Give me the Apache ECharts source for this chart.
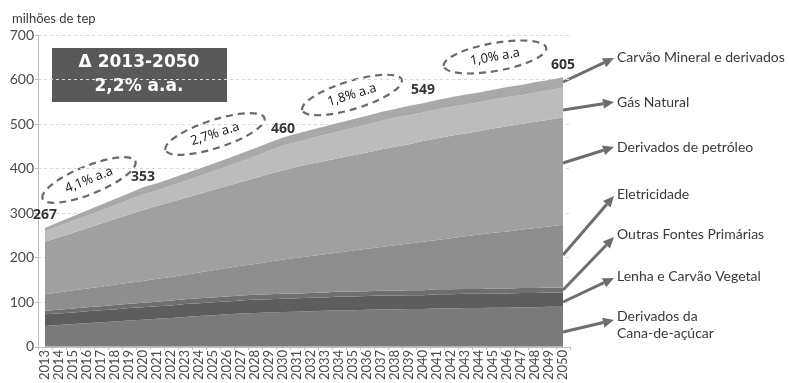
<!DOCTYPE html>
<html><head><meta charset="utf-8">
<script src="https://cdn.jsdelivr.net/npm/echarts@6/dist/echarts.min.js"></script>
<style>html,body{margin:0;padding:0;background:#fff}#c{width:789px;height:383px}</style>
</head><body><div id="c"></div>
<script>
const years = ['2013','2014','2015','2016','2017','2018','2019','2020','2021','2022','2023','2024','2025','2026','2027','2028','2029','2030','2031','2032','2033','2034','2035','2036','2037','2038','2039','2040','2041','2042','2043','2044','2045','2046','2047','2048','2049','2050'];
const cana =    [47,49,51,53,55,57,59,61,63,65,67,69,71,73,75,76,77,78,79,80,81,82,82,83,84,84,85,85,86,86,87,87,88,88,89,89,90,90];
const lenha =   [26,26,26,27,27,27,28,28,28,28,29,29,29,29,29,30,30,30,30,30,30,31,31,31,31,31,31,31,32,32,32,32,32,32,32,32,32,32];
const outras =  [8,8,9,9,9,10,10,10,10,11,11,11,11,11,11,11,11,11,11,11,11,11,11,11,11,11,11,11,11,11,11,11,11,11,11,11,11,11];
const eletricidade = [37,39,41,42,44,46,47,49,52,53,55,58,61,64,67,69,73,77,80,83,86,88,92,95,98,102,105,109,111,115,118,122,125,128,131,135,137,141];
const petroleo = [118,124,129,135,142,147,153,159,163,168,172,176,180,184,188,193,197,200,204,207,209,212,214,216,219,221,223,226,228,230,231,232,234,236,237,238,240,241];
const gas =     [23,25,27,28,29,31,33,35,35,37,38,40,42,44,46,49,52,56,56,57,59,60,61,63,64,65,65,64,65,65,65,65,65,66,65,66,66,67];
const carvao =  [8,9,10,12,13,14,15,16,16,16,17,17,17,17,18,18,18,18,19,19,19,19,20,20,20,20,21,21,21,21,22,22,22,22,23,23,23,23];
const totalYears = ['2013','2020','2030','2040','2050'];
const totalValues = [267,353,460,549,605];
const rateLabels = ['4,1% a.a','2,7% a.a','1,8% a.a','1,0% a.a'];
const seriesNames = ['Derivados da\nCana-de-açúcar','Lenha e Carvão Vegetal','Outras Fontes Primárias','Eletricidade','Derivados de petróleo','Gás Natural','Carvão Mineral e derivados'];

const colors = ['#7b7b7b','#5d5d5d','#6f6f6f','#8e8e8e','#a0a0a0','#bcbcbc','#a9a9a9'];
const dataSets = [cana,lenha,outras,eletricidade,petroleo,gas,carvao];

const chart = echarts.init(document.getElementById('c'));

function arrow(x1,y1,x2,y2){
  const ang = Math.atan2(y2-y1,x2-x1), L=11, W=5;
  const bx = x2 - L*Math.cos(ang), by = y2 - L*Math.sin(ang);
  const px = -Math.sin(ang)*W, py = Math.cos(ang)*W;
  return [
    {type:'line',shape:{x1:x1,y1:y1,x2:bx,y2:by},style:{stroke:'#6e6e6e',lineWidth:3},silent:true},
    {type:'polygon',shape:{points:[[x2,y2],[bx+px,by+py],[bx-px,by-py]]},style:{fill:'#6e6e6e'},silent:true}
  ];
}
const rightLabels = [
  {t:seriesNames[6], y:58, a:[563,82,614,58]},
  {t:seriesNames[5], y:103, a:[563,110,614,102]},
  {t:seriesNames[4], y:148, a:[563,163,614,147]},
  {t:seriesNames[3], y:195, a:[563,255,614,196]},
  {t:seriesNames[2], y:235, a:[563,290,614,237]},
  {t:seriesNames[1], y:277, a:[563,302,614,278]},
  {t:seriesNames[0], y:325, a:[563,332,614,320]}
];
const graphics = [];
rightLabels.forEach(r=>{
  graphics.push(...arrow(r.a[0],r.a[1],r.a[2],r.a[3]));
  graphics.push({type:'text',left:617,top:r.y-(r.t.indexOf('\n')>=0?17:9),style:{text:r.t,font:'14px Lato',fill:'#3a3a3a',lineHeight:17},silent:true});
});
const ell = [
  {cx:89,cy:180,rot:22,rx:50,ry:14},
  {cx:215,cy:134,rot:18,rx:52,ry:14},
  {cx:352,cy:95,rot:17,rx:52,ry:14},
  {cx:495,cy:57,rot:10,rx:52,ry:14}
];
ell.forEach((e,i)=>{
  graphics.push({type:'group',x:e.cx,y:e.cy,rotation:e.rot*Math.PI/180,silent:true,children:[
    {type:'ellipse',shape:{cx:0,cy:0,rx:e.rx,ry:e.ry},style:{fill:'none',stroke:'#6a6a6a',lineWidth:2.2,lineDash:[7,5]}},
    {type:'text',x:0,y:0,style:{text:rateLabels[i],font:'13px "Open Sans"',fill:'#111',align:'center',verticalAlign:'middle'}}
  ]});
});
graphics.push({type:'rect',shape:{x:52,y:48,width:175,height:54},style:{fill:'#595959'},silent:true});
graphics.push({type:'text',x:139,y:63,style:{text:'Δ 2013-2050',font:'bold 17px "DejaVu Sans"',fill:'#fff',align:'center',verticalAlign:'middle'},silent:true});
graphics.push({type:'text',x:139,y:87,style:{text:'2,2% a.a.',font:'bold 17px "DejaVu Sans"',fill:'#fff',align:'center',verticalAlign:'middle'},silent:true});

const series = dataSets.map((d,i)=>({
  name: seriesNames[i], type:'line', stack:'total', data:d,
  symbol:'none', lineStyle:{width:0}, areaStyle:{color:colors[i],opacity:1},
  itemStyle:{color:colors[i]}, z:2, silent:true
}));
series.push({
  type:'scatter', data: totalYears.map((y,i)=>[y,totalValues[i]]),
  symbolSize:1, itemStyle:{color:'rgba(0,0,0,0)'}, z:5, silent:true,
  label:{show:true,position:'top',distance:5,formatter:p=>String(p.value[1]),
    fontFamily:'Open Sans',fontWeight:'bold',fontSize:14,color:'#000'},
  labelLayout:{hideOverlap:false}
});

chart.setOption({
  animation:false,
  backgroundColor:'#fff',
  grid:{left:38,right:219,top:35,bottom:33},
  xAxis:{type:'category',data:years,boundaryGap:true,
    axisLine:{lineStyle:{color:'#bdbdbd'}},
    axisTick:{show:true,alignWithLabel:false,length:3,lineStyle:{color:'#bdbdbd'}},
    axisLabel:{rotate:90,interval:0,margin:3,fontFamily:'Lato',fontSize:13,color:'#4a4a4a'}
  },
  yAxis:{type:'value',min:0,max:700,interval:100,
    name:'milhões de tep',nameLocation:'end',nameGap:10,
    nameTextStyle:{fontFamily:'Lato',fontSize:13,color:'#3a3a3a',align:'left',padding:[0,0,0,-26]},
    axisLine:{show:true,lineStyle:{color:'#bdbdbd'}},
    axisTick:{show:true,length:3,lineStyle:{color:'#bdbdbd'}},
    axisLabel:{margin:4,fontFamily:'Lato',fontSize:14,color:'#4a4a4a'},
    splitLine:{show:true,lineStyle:{color:'#d9d9d9',type:[3,3]}}
  },
  series:series,
  graphic:graphics
});
</script></body></html>
